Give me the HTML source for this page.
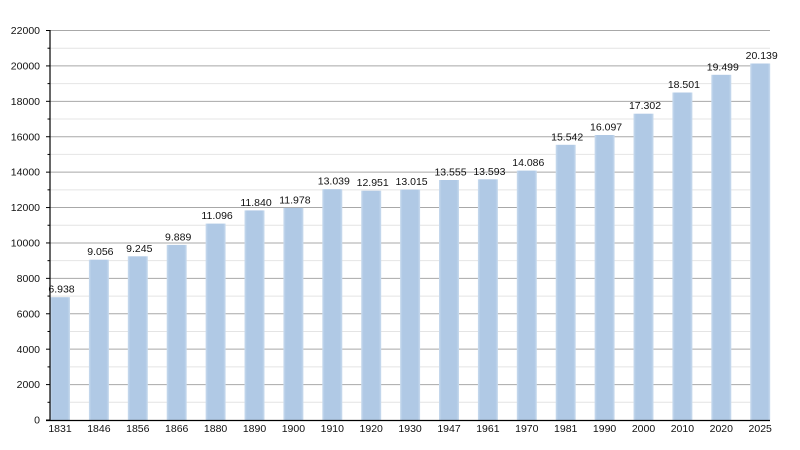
<!DOCTYPE html>
<html><head><meta charset="utf-8"><style>
html,body{margin:0;padding:0;background:#fff;}
svg{display:block;font-family:"Liberation Sans",Arial,sans-serif;}
</style></head><body>
<svg width="800" height="450" viewBox="0 0 800 450" xmlns="http://www.w3.org/2000/svg">
<defs>
<linearGradient id="bg" x1="0" x2="1" y1="0" y2="0">
<stop offset="0" stop-color="#c9dbee"/>
<stop offset="0.12" stop-color="#b0c9e5"/>
<stop offset="0.88" stop-color="#b0c9e5"/>
<stop offset="1" stop-color="#c9dbee"/>
</linearGradient>
</defs>
<g stroke="#e4e4e4" stroke-width="1">
<line x1="50" x2="770" y1="402.3" y2="402.3"/>
<line x1="50" x2="770" y1="366.89" y2="366.89"/>
<line x1="50" x2="770" y1="331.48" y2="331.48"/>
<line x1="50" x2="770" y1="296.07" y2="296.07"/>
<line x1="50" x2="770" y1="260.66" y2="260.66"/>
<line x1="50" x2="770" y1="225.25" y2="225.25"/>
<line x1="50" x2="770" y1="189.84" y2="189.84"/>
<line x1="50" x2="770" y1="154.43" y2="154.43"/>
<line x1="50" x2="770" y1="119.02" y2="119.02"/>
<line x1="50" x2="770" y1="83.61" y2="83.61"/>
<line x1="50" x2="770" y1="48.2" y2="48.2"/>
</g>
<g stroke="#a8a8a8" stroke-width="1">
<line x1="50" x2="770" y1="384.59" y2="384.59"/>
<line x1="50" x2="770" y1="349.18" y2="349.18"/>
<line x1="50" x2="770" y1="313.77" y2="313.77"/>
<line x1="50" x2="770" y1="278.36" y2="278.36"/>
<line x1="50" x2="770" y1="242.95" y2="242.95"/>
<line x1="50" x2="770" y1="207.55" y2="207.55"/>
<line x1="50" x2="770" y1="172.14" y2="172.14"/>
<line x1="50" x2="770" y1="136.73" y2="136.73"/>
<line x1="50" x2="770" y1="101.32" y2="101.32"/>
<line x1="50" x2="770" y1="65.91" y2="65.91"/>
<line x1="50" x2="770" y1="30.5" y2="30.5"/>
</g>
<g fill="url(#bg)">
<rect x="50" y="297.2" width="20" height="122.8"/>
<rect x="88.9" y="259.7" width="20" height="160.3"/>
<rect x="127.8" y="256.3" width="20" height="163.7"/>
<rect x="166.7" y="244.9" width="20" height="175.1"/>
<rect x="205.6" y="223.6" width="20" height="196.4"/>
<rect x="244.5" y="210.4" width="20" height="209.6"/>
<rect x="283.4" y="207.9" width="20" height="212.1"/>
<rect x="322.3" y="189.2" width="20" height="230.8"/>
<rect x="361.2" y="190.7" width="20" height="229.3"/>
<rect x="400.1" y="189.6" width="20" height="230.4"/>
<rect x="439" y="180" width="20" height="240"/>
<rect x="477.9" y="179.3" width="20" height="240.7"/>
<rect x="516.8" y="170.6" width="20" height="249.4"/>
<rect x="555.7" y="144.8" width="20" height="275.2"/>
<rect x="594.6" y="135" width="20" height="285"/>
<rect x="633.5" y="113.7" width="20" height="306.3"/>
<rect x="672.4" y="92.5" width="20" height="327.5"/>
<rect x="711.3" y="74.8" width="20" height="345.2"/>
<rect x="750.2" y="63.5" width="20" height="356.5"/>
</g>
<g font-size="10.5" fill="#111" text-anchor="middle">
<text x="61.5" y="292.7">6.938</text>
<text x="100.4" y="255.2">9.056</text>
<text x="139.3" y="251.8">9.245</text>
<text x="178.2" y="240.4">9.889</text>
<text x="217.1" y="219.1">11.096</text>
<text x="256" y="205.9">11.840</text>
<text x="294.9" y="203.4">11.978</text>
<text x="333.8" y="184.7">13.039</text>
<text x="372.7" y="186.2">12.951</text>
<text x="411.6" y="185.1">13.015</text>
<text x="450.5" y="175.5">13.555</text>
<text x="489.4" y="174.8">13.593</text>
<text x="528.3" y="166.1">14.086</text>
<text x="567.2" y="140.3">15.542</text>
<text x="606.1" y="130.5">16.097</text>
<text x="645" y="109.2">17.302</text>
<text x="683.9" y="88">18.501</text>
<text x="722.8" y="70.3">19.499</text>
<text x="761.7" y="59">20.139</text>
</g>
<g font-size="10.5" fill="#111" text-anchor="middle">
<text x="60" y="432">1831</text>
<text x="98.9" y="432">1846</text>
<text x="137.8" y="432">1856</text>
<text x="176.7" y="432">1866</text>
<text x="215.6" y="432">1880</text>
<text x="254.5" y="432">1890</text>
<text x="293.4" y="432">1900</text>
<text x="332.3" y="432">1910</text>
<text x="371.2" y="432">1920</text>
<text x="410.1" y="432">1930</text>
<text x="449" y="432">1947</text>
<text x="487.9" y="432">1961</text>
<text x="526.8" y="432">1970</text>
<text x="565.7" y="432">1981</text>
<text x="604.6" y="432">1990</text>
<text x="643.5" y="432">2000</text>
<text x="682.4" y="432">2010</text>
<text x="721.3" y="432">2020</text>
<text x="760.2" y="432">2025</text>
</g>
<g font-size="10.5" fill="#111" text-anchor="end">
<text x="40" y="423.6">0</text>
<text x="40" y="388.2">2000</text>
<text x="40" y="352.8">4000</text>
<text x="40" y="317.4">6000</text>
<text x="40" y="282">8000</text>
<text x="40" y="246.6">10000</text>
<text x="40" y="211.2">12000</text>
<text x="40" y="175.7">14000</text>
<text x="40" y="140.3">16000</text>
<text x="40" y="104.9">18000</text>
<text x="40" y="69.5">20000</text>
<text x="40" y="34.1">22000</text>
</g>
<g stroke="#000" stroke-width="1">
<line x1="46" x2="50" y1="420" y2="420"/>
<line x1="46" x2="50" y1="384.59" y2="384.59"/>
<line x1="46" x2="50" y1="349.18" y2="349.18"/>
<line x1="46" x2="50" y1="313.77" y2="313.77"/>
<line x1="46" x2="50" y1="278.36" y2="278.36"/>
<line x1="46" x2="50" y1="242.95" y2="242.95"/>
<line x1="46" x2="50" y1="207.55" y2="207.55"/>
<line x1="46" x2="50" y1="172.14" y2="172.14"/>
<line x1="46" x2="50" y1="136.73" y2="136.73"/>
<line x1="46" x2="50" y1="101.32" y2="101.32"/>
<line x1="46" x2="50" y1="65.91" y2="65.91"/>
<line x1="46" x2="50" y1="30.5" y2="30.5"/>
<line x1="47.5" x2="50" y1="402.3" y2="402.3"/>
<line x1="47.5" x2="50" y1="366.89" y2="366.89"/>
<line x1="47.5" x2="50" y1="331.48" y2="331.48"/>
<line x1="47.5" x2="50" y1="296.07" y2="296.07"/>
<line x1="47.5" x2="50" y1="260.66" y2="260.66"/>
<line x1="47.5" x2="50" y1="225.25" y2="225.25"/>
<line x1="47.5" x2="50" y1="189.84" y2="189.84"/>
<line x1="47.5" x2="50" y1="154.43" y2="154.43"/>
<line x1="47.5" x2="50" y1="119.02" y2="119.02"/>
<line x1="47.5" x2="50" y1="83.61" y2="83.61"/>
<line x1="47.5" x2="50" y1="48.2" y2="48.2"/>
</g>
<line x1="50" x2="50" y1="30" y2="420.6" stroke="#000" stroke-width="1.2"/>
<line x1="46" x2="770" y1="420.5" y2="420.5" stroke="#000" stroke-width="1.2"/>
</svg>
</body></html>
